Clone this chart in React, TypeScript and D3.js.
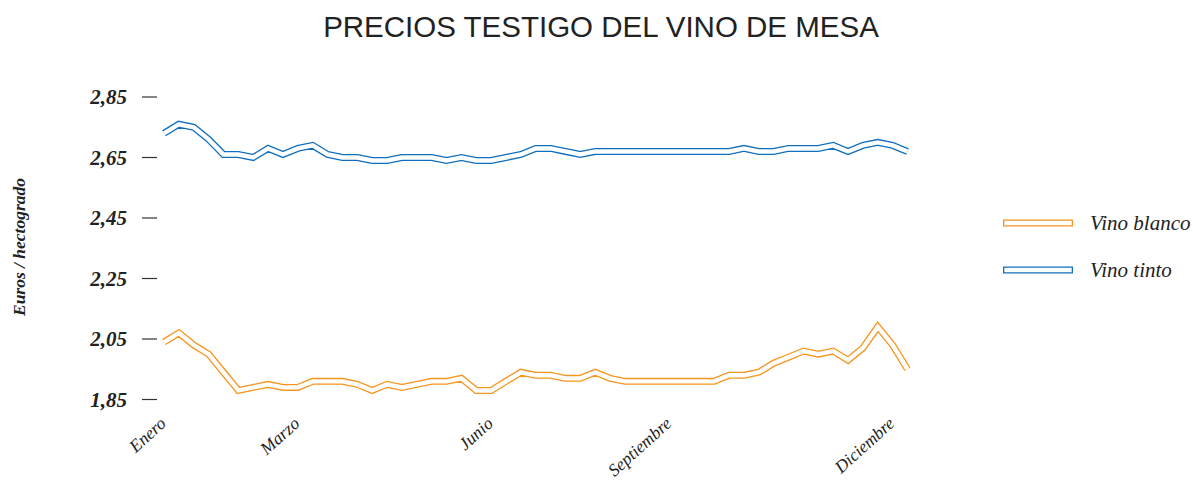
import React from "react";
import * as d3 from "d3";

const TITLE = "PRECIOS TESTIGO DEL VINO DE MESA";
const Y_TITLE = "Euros / hectogrado";
const Y_TICKS = [1.85, 2.05, 2.25, 2.45, 2.65, 2.85];
const X_LABELS = [
  { i: 0, label: "Enero" },
  { i: 9, label: "Marzo" },
  { i: 22, label: "Junio" },
  { i: 34, label: "Septiembre" },
  { i: 49, label: "Diciembre" },
];
const SERIES_NAMES = ["Vino blanco", "Vino tinto"];
const SERIES_COLORS = ["#F7941D", "#0F6EBE"];

const blanco = [
  2.04, 2.07, 2.03, 2.0, 1.94, 1.88, 1.89, 1.9, 1.89, 1.89, 1.91, 1.91, 1.91, 1.9, 1.88, 1.9, 1.89,
  1.9, 1.91, 1.91, 1.92, 1.88, 1.88, 1.91, 1.94, 1.93, 1.93, 1.92, 1.92, 1.94, 1.92, 1.91, 1.91,
  1.91, 1.91, 1.91, 1.91, 1.91, 1.93, 1.93, 1.94, 1.97, 1.99, 2.01, 2.0, 2.01, 1.98, 2.02, 2.09,
  2.03, 1.95,
];
const tinto = [
  2.73, 2.76, 2.75, 2.71, 2.66, 2.66, 2.65, 2.68, 2.66, 2.68, 2.69, 2.66, 2.65, 2.65, 2.64, 2.64,
  2.65, 2.65, 2.65, 2.64, 2.65, 2.64, 2.64, 2.65, 2.66, 2.68, 2.68, 2.67, 2.66, 2.67, 2.67, 2.67,
  2.67, 2.67, 2.67, 2.67, 2.67, 2.67, 2.67, 2.68, 2.67, 2.67, 2.68, 2.68, 2.68, 2.69, 2.67, 2.69,
  2.7, 2.69, 2.67,
];

const W = 1193;
const H = 485;

export default function App() {
  const x = d3.scaleLinear().domain([0, blanco.length - 1]).range([164, 907.5]);
  const y = d3.scaleLinear().domain([1.85, 2.85]).range([399.5, 97]);
  const line = d3
    .line<number>()
    .x((_, i) => x(i))
    .y((d) => y(d))
    .curve(d3.curveLinear);
  const fmt = (v: number) => v.toFixed(2).replace(".", ",");
  const series = [blanco, tinto];
  const serif = "'Liberation Serif', 'Times New Roman', serif";

  return (
    <div style={{ position: "absolute", left: 0, top: 0 }}>
      <svg width={W} height={H} style={{ display: "block", background: "#fff" }}>
        <text
          x={601}
          y={37}
          textAnchor="middle"
          fontFamily="'Liberation Sans', Arial, sans-serif"
          fontSize={29.5}
          fill="#222"
        >
          {TITLE}
        </text>
        <text
          transform={`translate(25,247) rotate(-90)`}
          textAnchor="middle"
          fontFamily={serif}
          fontStyle="italic"
          fontWeight="bold"
          fontSize={17.5}
          fill="#222"
        >
          {Y_TITLE}
        </text>
        {Y_TICKS.map((t) => (
          <g key={t}>
            <line x1={142} x2={157} y1={y(t)} y2={y(t)} stroke="#333" strokeWidth={1.2} />
            <text
              x={127}
              y={y(t)}
              dy="0.35em"
              textAnchor="end"
              fontFamily={serif}
              fontStyle="italic"
              fontWeight="bold"
              fontSize={21}
              fill="#222"
            >
              {fmt(t)}
            </text>
          </g>
        ))}
        {X_LABELS.map((l) => (
          <text
            key={l.label}
            transform={`translate(${x(l.i) + 3},${425}) rotate(-42)`}
            textAnchor="end"
            fontFamily={serif}
            fontStyle="italic"
            fontSize={17.5}
            fill="#222"
          >
            {l.label}
          </text>
        ))}
        {series.map((s, k) => (
          <g key={k}>
            <path
              d={line(s) || ""}
              fill="none"
              stroke={SERIES_COLORS[k]}
              strokeWidth={7}
              strokeLinejoin="miter"
              strokeLinecap="butt"
            />
            <path
              d={line(s) || ""}
              fill="none"
              stroke="#fff"
              strokeWidth={4.4}
              strokeLinejoin="miter"
              strokeLinecap="butt"
            />
          </g>
        ))}
        {SERIES_NAMES.map((n, k) => {
          const ly = 223 + k * 47;
          return (
            <g key={n}>
              <line x1={1003} x2={1073} y1={ly} y2={ly} stroke={SERIES_COLORS[k]} strokeWidth={7} />
              <line x1={1004.3} x2={1071.7} y1={ly} y2={ly} stroke="#fff" strokeWidth={4.4} />
              <text
                x={1090}
                y={ly}
                dy="0.32em"
                fontFamily={serif}
                fontStyle="italic"
                fontSize={21}
                fill="#222"
              >
                {n}
              </text>
            </g>
          );
        })}
      </svg>
    </div>
  );
}
